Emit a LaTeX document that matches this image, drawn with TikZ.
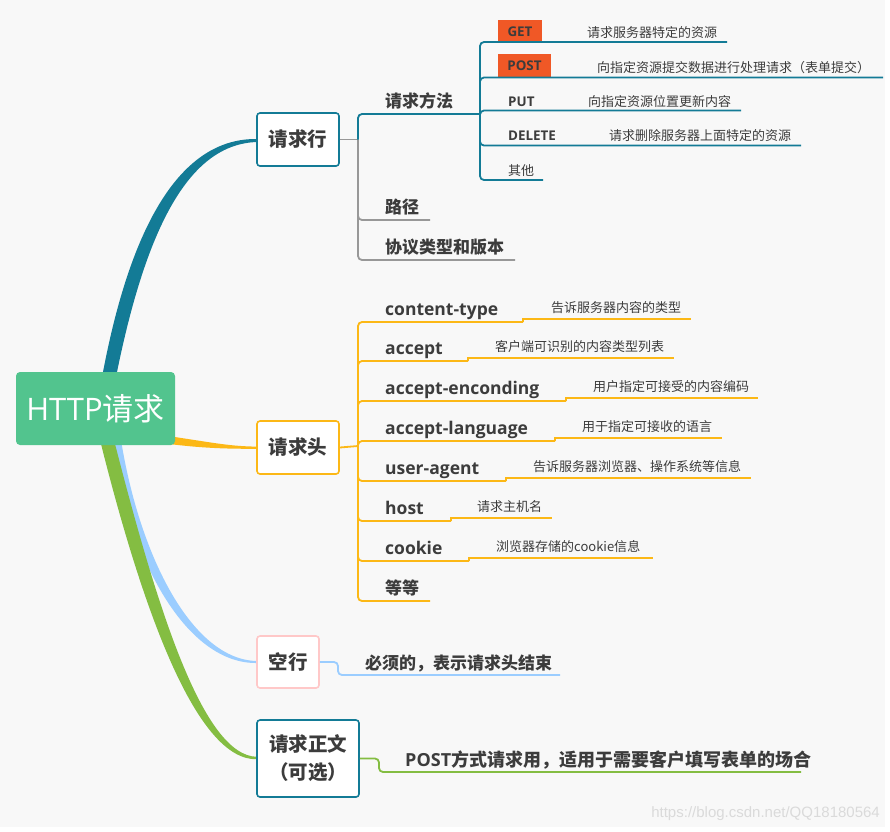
\documentclass[tikz,border=0pt]{standalone}
\usepackage{fontspec}
\setmainfont{Noto Sans CJK SC}
\newfontfamily\lat{Open Sans}
\newfontfamily\wmfont{Liberation Sans}
\definecolor{bg}{RGB}{248,248,248}
\definecolor{teal1}{RGB}{19,123,150}
\definecolor{orng}{RGB}{252,184,22}
\definecolor{lblue}{RGB}{155,205,255}
\definecolor{grn}{RGB}{132,189,66}
\definecolor{pnk}{RGB}{255,200,200}
\definecolor{gry}{RGB}{152,152,152}
\definecolor{redbox}{RGB}{240,88,38}
\definecolor{rootg}{RGB}{82,196,142}
\definecolor{txt}{RGB}{60,60,60}
\definecolor{wmc}{RGB}{218,218,218}
\newcommand\myfs[1]{\fontsize{#1}{#1}\selectfont}
\begin{document}
\begin{tikzpicture}[x=1pt,y=-1pt,
  subbox/.style={draw, fill=white, rounded corners=3pt, line width=1.6pt, text=txt, font=\bfseries\myfs{19.5}, inner sep=0pt, align=center},
  lab/.style={anchor=base west, inner sep=0pt, text=txt, font=\bfseries\myfs{17}},
  hlab/.style={anchor=base west, inner sep=0pt, text=txt, font=\lat\bfseries\myfs{17.5}},
  mlab/.style={anchor=base west, inner sep=0pt, text=txt, font=\lat\bfseries\myfs{13.4}},
  mbox/.style={fill=redbox, inner sep=0pt, text=txt, font=\lat\bfseries\myfs{13.4}},
  dsc/.style={anchor=base west, inner sep=0pt, text=txt, font=\myfs{13}},
  conn/.style={line width=1.8pt, rounded corners=4pt},
  jog/.style={line width=1.8pt},
]
\useasboundingbox (0,0) rectangle (890,831);
\fill[bg] (0,0) rectangle (890,831);
\fill[white] (0,827) rectangle (890,831);
\fill[white] (885,0) rectangle (890,831);

% main tapered branches
\fill[teal1] (103,372) .. controls (133,215) and (185,138) .. (257,139)
  -- (257,142) .. controls (190,144) and (147,225) .. (117,372) -- cycle;
\fill[orng] (165,435.5) .. controls (215,443) and (230,446.3) .. (257,446.6)
  -- (257,448.8) .. controls (228,448.8) and (205,448.5) .. (165,443.5) -- cycle;
\fill[lblue] (111,440) .. controls (130,562) and (187,664) .. (257,663)
  -- (257,661) .. controls (193,660) and (140,558) .. (121,440) -- cycle;
\fill[grn] (100,440) .. controls (143,612) and (197,761) .. (257,759.2)
  -- (257,756.8) .. controls (203,756) and (157,608) .. (114,440) -- cycle;

% root
\node[fill=rootg, rounded corners=4pt, minimum width=159pt, minimum height=73pt, inner sep=0pt, text=white, font=\myfs{31}] (root) at (95.5,408.5) {{\lat HTTP}请求};

% first level boxes
\node[subbox, draw=teal1, minimum width=82pt, minimum height=53pt] (rline) at (298,139.5) {请求行};
\node[subbox, draw=orng, minimum width=82pt, minimum height=53pt] (rhead) at (298,447.5) {请求头};
\node[subbox, draw=pnk, minimum width=62pt, minimum height=52pt] (rblank) at (288,662) {空行};
\node[subbox, draw=teal1, minimum width=102pt, minimum height=77pt, font=\bfseries\fontsize{19.5}{28}\selectfont] (rbody) at (308,758.5) {请求正文\\（可选）};

% ---- request line ----
\coordinate (lh) at (358,139.5);
\coordinate (m0) at (462,114);
\coordinate (mh) at (480,114);
\coordinate (p0) at (430,220);
\coordinate (v0) at (515,260);
\draw[conn, gry] (rline.east) -- (lh);
\draw[conn, gry] (lh) |- (p0);
\draw[conn, gry] (lh) |- (v0);
\draw[conn, teal1] (lh) |- (m0) -- (mh);
\node[lab] (tm) at (385,107) {请求方法};
\node[lab] (tp) at (385,213) {路径};
\node[lab] (tv) at (385,253) {协议类型和版本};

% methods
\node[mbox, minimum width=44pt, minimum height=23pt] (mget) at (520,31.5) {GET};
\node[mbox, minimum width=53pt, minimum height=24pt] (mpost) at (524.5,66) {POST};
\node[mlab] (mput) at (508,106) {PUT};
\node[mlab] (mdel) at (508,140) {DELETE};
\node[dsc] (moth) at (508,175) {其他};
\coordinate (g1) at (727,42);
\coordinate (po2) at (883,77.5);
\coordinate (pu2) at (741,110.5);
\coordinate (de2) at (801,145.5);
\coordinate (ot1) at (543,180);
\draw[conn, teal1] (mh) |- (g1);
\draw[conn, teal1] (mh) |- (po2);
\draw[conn, teal1] (mh) |- (pu2);
\draw[conn, teal1] (mh) |- (de2);
\draw[conn, teal1] (mh) |- (ot1);
\node[dsc] (dget) at (587,37) {请求服务器特定的资源};
\node[dsc] (dpost) at (597,72) {向指定资源提交数据进行处理请求（表单提交）};
\node[dsc] (dput) at (588,106) {向指定资源位置更新内容};
\node[dsc] (ddel) at (609,140) {请求删除服务器上面特定的资源};

% ---- request header ----
\coordinate (hh) at (358,446);
\draw[conn, orng] (rhead.east) -- (hh);
\foreach \lbl/\ly/\bx/\dtext/\dx/\dend [count=\i] in {
  content-type/322/523/告诉服务器内容的类型/551/691,
  accept/361/468/客户端可识别的内容类型列表/495/674,
  accept-enconding/401/566/用户指定可接受的内容编码/593/758,
  accept-language/441/555/用于指定可接收的语言/582/722,
  user-agent/481/506/告诉服务器浏览器、操作系统等信息/533/751,
  host/521/451/请求主机名/477/552,
  cookie/561/469/浏览器存储的cookie信息/496/653} {
  \coordinate (hb\i) at (\bx,\ly);
  \coordinate (he\i) at (\dend,\ly-3);
  \draw[conn, orng] (hh) |- (hb\i);
  \draw[jog, orng] (hb\i) -- (hb\i |- he\i) -- (he\i);
  \node[hlab] (hl\i) at (385,\ly-7) {\lbl};
  \node[dsc] (hd\i) at (\dx,\ly-9.5) {\dtext};
}
\coordinate (hb8) at (430,601);
\draw[conn, orng] (hh) |- (hb8);
\node[lab] (hl8) at (385,594) {等等};

% ---- blank line ----
\coordinate (bk) at (338,675);
\coordinate (bke) at (560,675);
\draw[conn, lblue] (rblank.east) -| (bk) -- (bke);
\node[lab] (tb) at (365,669) {必须的，表示请求头结束};

% ---- body ----
\coordinate (bd) at (379,772);
\coordinate (bde) at (801,772);
\draw[conn, grn] (rbody.east) -| (bd) -- (bde);
\node[lab, font=\bfseries\myfs{18}] (tbody) at (405,766) {{\lat POST}方式请求用，适用于需要客户填写表单的场合};

% watermark
\node[anchor=base east, inner sep=0pt, text=wmc, font=\wmfont\myfs{15}] (wm) at (880,817) {https://blog.csdn.net/QQ18180564};
\end{tikzpicture}
\end{document}
